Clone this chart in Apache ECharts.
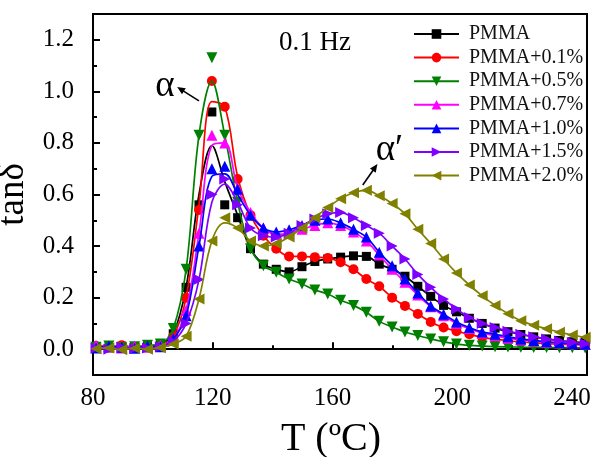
<!DOCTYPE html>
<html><head><meta charset="utf-8">
<script src="https://cdn.jsdelivr.net/npm/echarts@6/dist/echarts.min.js"></script>
<style>html,body{margin:0;padding:0;background:#fff}#c{width:595px;height:457px}</style>
</head><body><div id="c"></div>
<script>
// ---- data ----
const temps = [81.0, 85.3, 89.6, 93.9, 98.2, 102.5, 106.8, 111.1, 115.4, 119.7, 124.0, 128.3, 132.6, 136.9, 141.2, 145.5, 149.8, 154.1, 158.4, 162.7, 167.0, 171.3, 175.6, 179.9, 184.2, 188.5, 192.8, 197.1, 201.4, 205.7, 210.0, 214.3, 218.6, 222.9, 227.2, 231.5, 235.8, 240.1, 244.4];
const names = ['PMMA', 'PMMA+0.1%', 'PMMA+0.5%', 'PMMA+0.7%', 'PMMA+1.0%', 'PMMA+1.5%', 'PMMA+2.0%'];

// measured points (markers)
const pmma   = [0.010,0.005,0.012,0.008,0.010,0.018,0.06,0.24,0.56,0.92,0.56,0.51,0.39,0.33,0.31,0.30,0.32,0.34,0.35,0.357,0.362,0.36,0.33,0.31,0.283,0.244,0.205,0.17,0.145,0.12,0.10,0.082,0.068,0.057,0.048,0.040,0.034,0.029,0.026];
const pmma01 = [0.012,0.008,0.015,0.006,0.010,0.015,0.05,0.20,0.54,1.04,0.94,0.66,0.52,0.44,0.39,0.36,0.36,0.357,0.354,0.337,0.31,0.272,0.244,0.20,0.168,0.137,0.106,0.084,0.07,0.058,0.046,0.039,0.033,0.028,0.025,0.022,0.020,0.018,0.016];
const pmma05 = [0.008,0.012,0.005,0.010,0.015,0.020,0.08,0.31,0.83,1.13,0.83,0.57,0.39,0.324,0.298,0.272,0.253,0.23,0.214,0.19,0.17,0.143,0.108,0.086,0.067,0.053,0.04,0.029,0.02,0.015,0.012,0.010,0.009,0.008,0.007,0.007,0.006,0.006,0.005];
const pmma07 = [0.015,0.010,0.005,0.012,0.008,0.015,0.04,0.15,0.45,0.83,0.80,0.625,0.53,0.47,0.445,0.45,0.465,0.48,0.49,0.48,0.455,0.42,0.365,0.31,0.26,0.21,0.165,0.13,0.10,0.08,0.063,0.052,0.043,0.036,0.031,0.027,0.024,0.021,0.019];
const pmma10 = [0.005,0.012,0.008,0.004,0.012,0.010,0.04,0.13,0.40,0.70,0.71,0.62,0.52,0.47,0.455,0.463,0.48,0.50,0.505,0.49,0.465,0.435,0.376,0.324,0.272,0.218,0.168,0.136,0.106,0.084,0.067,0.058,0.048,0.040,0.034,0.029,0.025,0.022,0.019];
const pmma15 = [0.005,0.000,0.008,0.003,0.005,0.010,0.03,0.10,0.27,0.60,0.66,0.56,0.47,0.44,0.435,0.45,0.48,0.505,0.525,0.53,0.51,0.48,0.45,0.40,0.35,0.29,0.24,0.195,0.156,0.123,0.10,0.084,0.07,0.058,0.048,0.040,0.032,0.026,0.021];
const pmma20 = [0.002,0.005,-0.002,0.004,0.000,0.006,0.02,0.05,0.195,0.42,0.51,0.47,0.42,0.40,0.41,0.435,0.47,0.51,0.55,0.584,0.607,0.616,0.595,0.565,0.525,0.465,0.41,0.35,0.296,0.249,0.207,0.17,0.138,0.11,0.093,0.079,0.066,0.055,0.046];

// fitted curve values around the alpha peak (T = 111.1 ... 132.6)
const peakStart = 7;
const pmmaFit   = [0.24, 0.60, 0.79, 0.65, 0.52, 0.39];
const pmma01Fit = [0.20, 0.56, 0.96, 0.94, 0.67, 0.52];
const pmma05Fit = [0.31, 0.83, 1.04, 0.83, 0.57, 0.39];
const pmma07Fit = [0.15, 0.45, 0.79, 0.80, 0.625, 0.53];
const pmma10Fit = [0.13, 0.40, 0.67, 0.68, 0.60, 0.52];
const pmma15Fit = [0.10, 0.27, 0.57, 0.64, 0.57, 0.47];
const pmma20Fit = [0.05, 0.195, 0.42, 0.49, 0.47, 0.42];

const xTicks = [80, 120, 160, 200, 240];
const yTicks = [0.0, 0.2, 0.4, 0.6, 0.8, 1.0, 1.2];

// annotations (data coordinates)
const freqText = '0.1 Hz';
const freqPos = [142.1, 1.187];
const alphaPos = [104.0, 1.02];
const alphaArrow = [[115.4, 0.963], [108.1, 1.017]];
const alphaPPos = [179.0, 0.77];
const alphaPArrow = [[170.1, 0.637], [175.0, 0.718]];

// ---- styles ----
const marks = [pmma, pmma01, pmma05, pmma07, pmma10, pmma15, pmma20];
const fits = [pmmaFit, pmma01Fit, pmma05Fit, pmma07Fit, pmma10Fit, pmma15Fit, pmma20Fit];
const colors = ['#000000', '#ff0000', '#008000', '#ff00ff', '#0000ff', '#8000ff', '#808000'];
const symbols = ['rect', 'circle', 'triangle', 'triangle', 'triangle', 'triangle', 'triangle'];
const rotates = [0, 0, 180, 0, 0, -90, 90];
const sizes = [9, 10, 11, 11, 11, 11, 11];
const FONT = '"Liberation Serif", "Times New Roman", serif';

const series = [];
marks.forEach((m, i) => {
  const lineVals = m.slice();
  fits[i].forEach((v, k) => { lineVals[peakStart + k] = v; });
  series.push({
    type: 'line', name: names[i], data: temps.map((t, k) => [t, lineVals[k]]),
    smooth: 0.35, showSymbol: false, symbol: symbols[i], symbolSize: sizes[i], symbolRotate: rotates[i],
    lineStyle: { color: colors[i], width: 1.7 }, itemStyle: { color: colors[i] },
    z: 2 + i, silent: true, animation: false
  });
});
marks.forEach((m, i) => {
  series.push({
    type: 'scatter', name: names[i], data: temps.map((t, k) => [t, m[k]]),
    symbol: symbols[i], symbolSize: sizes[i], symbolRotate: rotates[i],
    itemStyle: { color: colors[i], opacity: 1 }, z: 2 + i, silent: true, animation: false
  });
});

const chart = echarts.init(document.getElementById('c'), null, { renderer: 'canvas' });
const axisLbl = { fontFamily: FONT, fontSize: 25, color: '#000' };
chart.setOption({
  animation: false,
  backgroundColor: '#fff',
  grid: { left: 93, right: 8, top: 14, bottom: 82, outerBoundsMode: 'none', containLabel: false,
    show: true, borderColor: '#000', borderWidth: 2, backgroundColor: 'transparent' },
  legend: {
    orient: 'vertical', left: 408, top: 19, itemWidth: 45, itemHeight: 12, itemGap: 3.6,
    data: names, selectedMode: false,
    textStyle: Object.assign({}, axisLbl, { fontSize: 20, color: '#111', padding: [0, 0, 0, 5] })
  },
  xAxis: [
    { type: 'value', min: 80, max: 245, interval: 40, position: 'bottom',
      axisLine: { show: true, lineStyle: { color: '#000', width: 2 } },
      axisTick: { show: true, inside: true, length: 7, customValues: xTicks, lineStyle: { color: '#000', width: 2 } },
      axisLabel: Object.assign({ customValues: xTicks, margin: 11, formatter: v => (v % 40 === 0 ? String(v) : '') }, axisLbl),
      splitLine: { show: false },
      name: 'T (ºC)', nameLocation: 'middle', nameGap: 44,
      nameTextStyle: { fontFamily: FONT, fontSize: 40, color: '#000', padding: [0, 18, 0, 0] } },
    { type: 'value', min: 80, max: 245, interval: 20, position: 'bottom',
      axisLine: { show: false }, axisTick: { show: true, inside: true, length: 4, lineStyle: { color: '#000', width: 2 } },
      axisLabel: { show: false }, splitLine: { show: false } }
  ],
  yAxis: [
    { type: 'value', min: -0.1, max: 1.3, interval: 0.1, position: 'left',
      axisLine: { show: true, lineStyle: { color: '#000', width: 2 } },
      axisTick: { show: true, inside: true, length: 7, customValues: yTicks, lineStyle: { color: '#000', width: 2 } },
      axisLabel: Object.assign({ customValues: yTicks, margin: 19,
        formatter: v => { const r = Math.round(v * 10); return (r % 2 === 0 && r >= 0 && r <= 12) ? (r / 10).toFixed(1) : ''; } }, axisLbl),
      splitLine: { show: false },
      name: 'tanδ', nameLocation: 'middle', nameGap: 55, nameRotate: 90,
      nameTextStyle: { fontFamily: FONT, fontSize: 37, color: '#000' } },
    { type: 'value', min: -0.1, max: 1.3, interval: 0.1, position: 'left',
      axisLine: { show: false }, axisTick: { show: true, inside: true, length: 4, lineStyle: { color: '#000', width: 2 } },
      axisLabel: { show: false }, splitLine: { show: false } }
  ],
  series: series
});

function P(p) { return chart.convertToPixel({ xAxisIndex: 0, yAxisIndex: 0 }, p); }
function arrow(a) {
  const t = P(a[0]), h = P(a[1]);
  const dx = h[0] - t[0], dy = h[1] - t[1], len = Math.hypot(dx, dy);
  const ux = dx / len, uy = dy / len, nx = -uy, ny = ux, L = 8, W = 3.5;
  return [
    { type: 'line', shape: { x1: t[0], y1: t[1], x2: h[0] - ux * L * 0.6, y2: h[1] - uy * L * 0.6 }, style: { stroke: '#000', lineWidth: 1.6 }, z: 50 },
    { type: 'polygon', shape: { points: [[h[0], h[1]], [h[0] - ux * L + nx * W, h[1] - uy * L + ny * W], [h[0] - ux * L - nx * W, h[1] - uy * L - ny * W]] }, style: { fill: '#000' }, z: 50 }
  ];
}
const fp = P(freqPos), ap = P(alphaPos), app = P(alphaPPos);
chart.setOption({
  graphic: [
    { type: 'text', x: fp[0], y: fp[1], z: 50, style: { text: freqText, font: '27px ' + FONT, fill: '#000', align: 'left', verticalAlign: 'middle' } },
    { type: 'text', x: ap[0], y: ap[1], z: 50, style: { text: 'α', font: '37px ' + FONT, fill: '#000', align: 'center', verticalAlign: 'middle' } },
    { type: 'text', x: app[0], y: app[1], z: 50, style: { text: 'α′', font: '37px ' + FONT, fill: '#000', align: 'center', verticalAlign: 'middle' } }
  ].concat(arrow(alphaArrow), arrow(alphaPArrow))
});
</script></body></html>
